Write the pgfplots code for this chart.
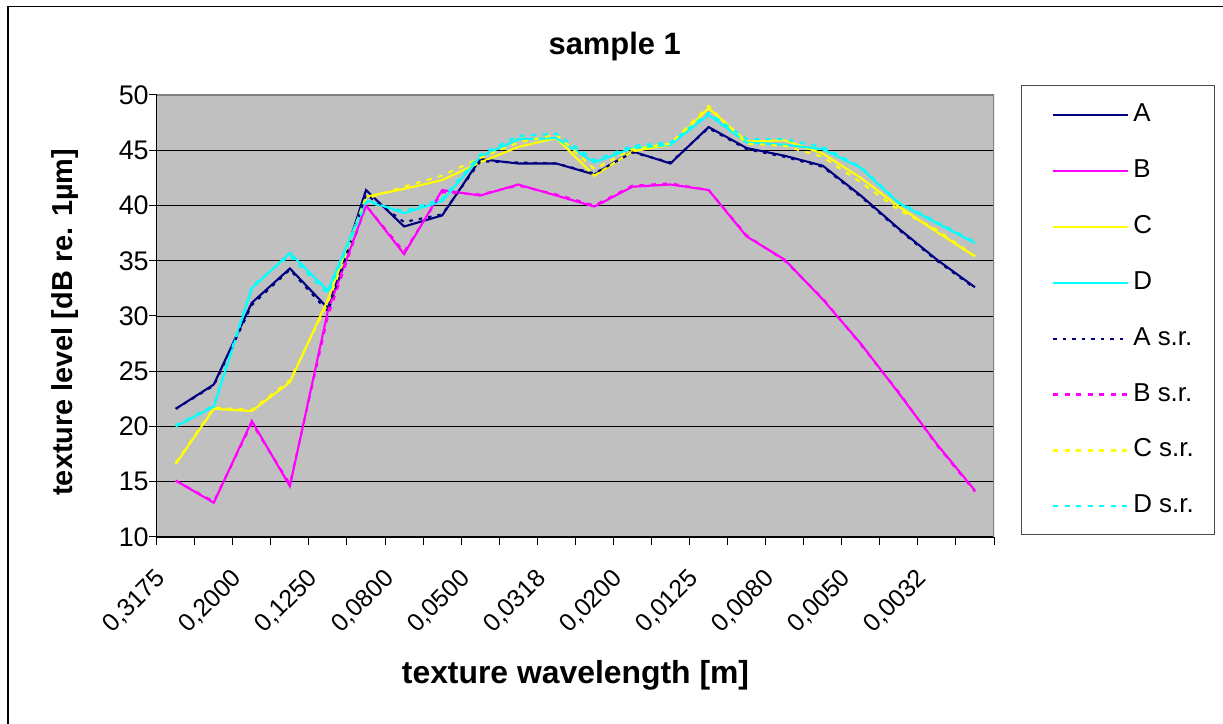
\documentclass[border=0pt]{standalone}
\usepackage{fontspec}
\setmainfont{Liberation Sans}
\usepackage{pgfplots}
\usepackage{pgfplotstable}
\pgfplotsset{compat=1.18}
\definecolor{cA}{HTML}{000080}
\definecolor{cB}{HTML}{FF00FF}
\definecolor{cC}{HTML}{FFFF00}
\definecolor{cD}{HTML}{00FFFF}
\definecolor{plotbg}{HTML}{C0C0C0}
\definecolor{framegray}{HTML}{808080}

\pgfplotstableread{
i  A    B    C    D    As   Bs   Cs   Ds
0  21.6 15.1 16.6 20.0 21.6 15.1 16.7 20.1
1  23.8 13.1 21.6 21.8 23.7 13.2 21.7 21.9
2  31.2 20.5 21.4 32.5 31.0 20.3 21.5 32.7
3  34.3 14.6 24.0 35.7 34.2 14.8 24.2 35.5
4  30.7 30.5 31.5 32.3 30.4 30.0 31.2 32.0
5  41.4 40.0 40.8 40.5 41.0 40.0 40.6 40.3
6  38.1 35.6 41.5 39.3 38.5 35.8 41.7 39.5
7  39.1 41.4 42.3 40.4 39.2 41.2 42.7 40.6
8  44.2 40.9 43.9 44.4 44.0 41.0 44.3 44.6
9  43.8 41.9 45.3 46.0 43.9 41.8 45.7 46.3
10 43.8 40.9 46.1 46.1 43.8 41.0 46.4 46.5
11 42.8 39.9 42.7 43.9 42.9 40.0 43.3 44.1
12 44.9 41.7 44.9 45.2 44.8 41.8 45.1 45.4
13 43.8 41.9 45.5 45.5 43.9 42.0 45.6 45.7
14 47.1 41.4 48.8 48.2 47.0 41.4 49.0 48.4
15 45.2 37.2 45.8 45.7 45.1 37.3 45.6 46.0
16 44.5 35.1 45.9 45.5 44.4 35.0 45.4 46.0
17 43.6 31.5 44.7 45.1 43.5 31.6 44.4 45.3
18 40.9 27.5 42.5 43.4 40.8 27.4 42.1 43.5
19 37.9 23.0 39.9 40.2 37.8 23.1 39.6 40.3
20 35.1 18.4 37.6 38.4 35.0 18.3 37.8 38.5
21 32.6 14.2 35.4 36.6 32.5 14.1 35.4 36.7
}\data

\begin{document}
\begin{tikzpicture}
\useasboundingbox (0bp,0bp) rectangle (1223bp,724bp);
\draw[line width=1.3bp] (8bp,-10bp) rectangle (1240bp,717.3bp);
\draw[line width=1bp, black!70] (1021bp,638bp) rectangle (1214bp,189bp);
\begin{axis}[
  at={(156.7bp,187bp)}, anchor=south west,
  width=837.3bp, height=442bp, scale only axis,
  xmin=-0.5, xmax=21.5, ymin=10, ymax=50,
  axis background/.style={fill=plotbg},
  axis x line*=bottom, axis y line*=left,
  axis line style={black, line width=1bp},
  ytick={10,15,...,50},
  ymajorgrids, major grid style={black, line width=0.9bp},
  xtick={-0.5,0.5,...,21.5}, xticklabels={},
  tick align=outside, major tick length=7.5bp,
  tick style={black, line width=1bp},
  /pgf/number format/assume math mode=true,
  yticklabel style={font=\fontsize{27}{30}\selectfont, anchor=east, xshift=3bp},
  extra x ticks={-0.37,1.63,3.63,5.63,7.63,9.63,11.63,13.63,15.63,17.63,19.63},
  extra x tick labels={{0,3175},{0,2000},{0,1250},{0,0800},{0,0500},{0,0318},{0,0200},{0,0125},{0,0080},{0,0050},{0,0032}},
  extra x tick style={major tick length=0pt, grid=none,
    tick label style={font=\fontsize{25}{28}\selectfont, rotate=45, anchor=east, inner sep=0pt, xshift=-26.5bp, yshift=-26.5bp}},
  title={sample 1},
  title style={font=\bfseries\fontsize{31}{34}\selectfont, at={(axis description cs:0.547,1.097)}, anchor=center},
  xlabel={texture wavelength [m]},
  xlabel style={font=\bfseries\fontsize{32}{35}\selectfont, at={(axis description cs:0.5002,-0.312)}, anchor=center},
  ylabel={texture level [dB re. 1µm]},
  ylabel style={font=\bfseries\fontsize{29}{32}\selectfont, at={(axis description cs:-0.1095,0.486)}, anchor=center},
  legend style={at={(axis description cs:1.0693,0.512)}, anchor=west, draw=none, fill=none,
    font=\fontsize{26}{30}\selectfont, row sep=32.9bp, inner sep=0pt,
    nodes={text height=18bp, text depth=5bp, inner sep=0pt},
    /tikz/every odd column/.append style={column sep=4bp}},
  legend cell align=left,
  legend image code/.code={\draw[#1] (0bp,0bp) -- (75bp,0bp);},
  every axis plot/.append style={line width=2.1bp},
]
\draw[framegray, line width=1.5bp] (rel axis cs:0,1) -- (rel axis cs:1,1) -- (rel axis cs:1,0);
\addplot[cA] table[x=i,y=A] {\data};
\addplot[cB] table[x=i,y=B] {\data};
\addplot[cC] table[x=i,y=C] {\data};
\addplot[cD] table[x=i,y=D] {\data};
\addplot[cA, dash pattern=on 3.5bp off 6bp] table[x=i,y=As] {\data};
\addplot[cB, dash pattern=on 5bp off 6.5bp] table[x=i,y=Bs] {\data};
\addplot[cC, dash pattern=on 5bp off 6.5bp] table[x=i,y=Cs] {\data};
\addplot[cD, dash pattern=on 5bp off 6.5bp] table[x=i,y=Ds] {\data};
\legend{A,B,C,D,A s.r.,B s.r.,C s.r.,D s.r.}
\end{axis}
\end{tikzpicture}
\end{document}
